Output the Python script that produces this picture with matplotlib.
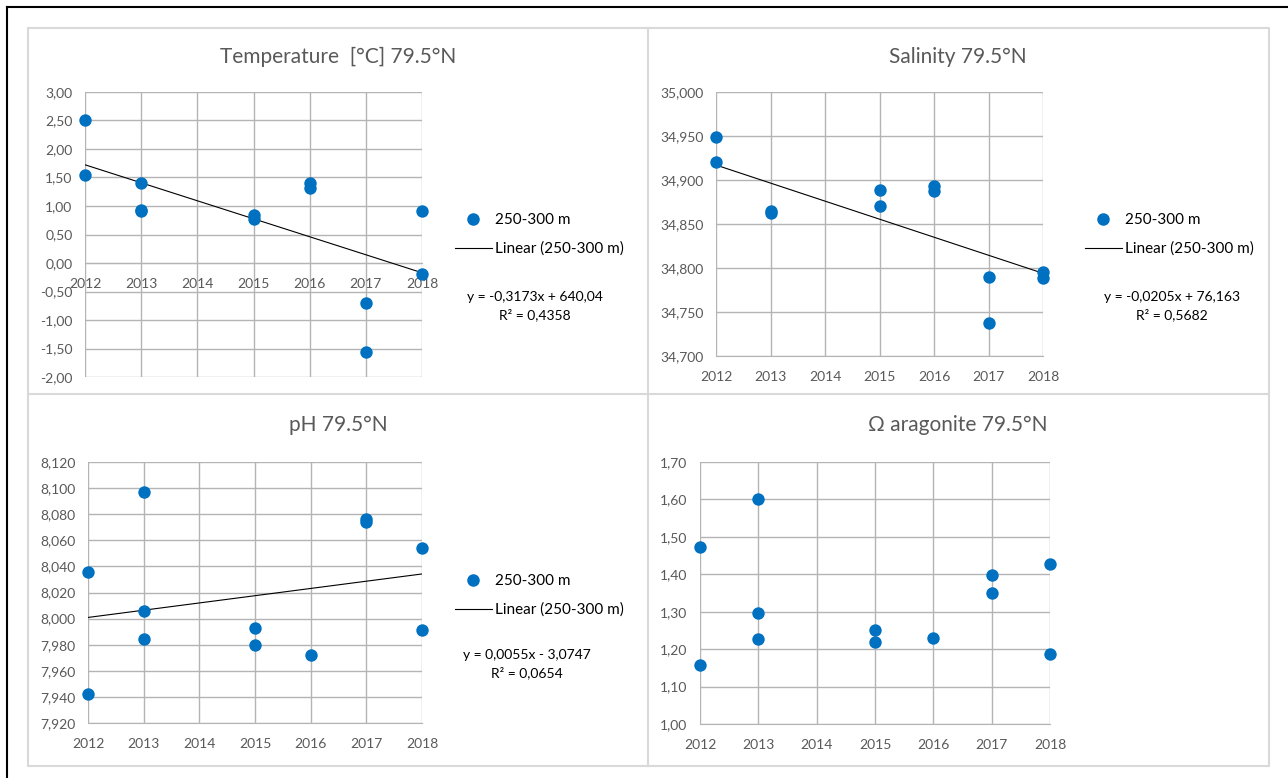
import matplotlib
matplotlib.use("Agg")
import matplotlib.pyplot as plt
import numpy as np
from matplotlib.lines import Line2D
from matplotlib.ticker import FuncFormatter, MultipleLocator

plt.rcParams['font.family'] = ['Lato', 'DejaVu Sans']

years = [2012, 2013, 2014, 2015, 2016, 2017, 2018]

temp_x = [2012, 2012, 2013, 2013, 2013, 2015, 2015, 2016, 2016, 2017, 2017, 2018, 2018]
temp_y = [2.51, 1.55, 1.40, 0.93, 0.91, 0.85, 0.77, 1.40, 1.31, -0.70, -1.56, 0.92, -0.20]

sal_x = [2012, 2012, 2013, 2013, 2015, 2015, 2016, 2016, 2017, 2017, 2018, 2018]
sal_y = [34.949, 34.921, 34.865, 34.862, 34.889, 34.870, 34.893, 34.887, 34.790, 34.738, 34.796, 34.789]
# trend coefficients as printed on the chart (slope, intercept)
sal_trend = (-0.0205, 76.163)

ph_x = [2012, 2012, 2013, 2013, 2013, 2015, 2015, 2016, 2017, 2017, 2018, 2018]
ph_y = [8.036, 7.942, 8.097, 8.006, 7.984, 7.993, 7.980, 7.972, 8.076, 8.074, 8.054, 7.991]

om_x = [2012, 2012, 2013, 2013, 2013, 2015, 2015, 2016, 2017, 2017, 2018, 2018]
om_y = [1.472, 1.157, 1.602, 1.296, 1.227, 1.251, 1.220, 1.231, 1.397, 1.350, 1.428, 1.188]

series_label = "250-300 m"
trend_label = "Linear (250-300 m)"

W, H = 1288, 778
fig = plt.figure(figsize=(W / 100, H / 100), dpi=100)
fig.patch.set_facecolor('white')

BLUE = '#0070C0'
GRID = '#b4b4b4'
TXT = '#595959'


def rect(x0, y0, x1, y1):
    return [x0 / W, 1 - y1 / H, (x1 - x0) / W, (y1 - y0) / H]


def comma(dec):
    return FuncFormatter(lambda v, p: f"{v:.{dec}f}".replace('.', ','))


def make_ax(box, ylim, step, dec, zero_axis=False):
    ax = fig.add_axes(rect(*box))
    ax.set_xlim(2012, 2018)
    ax.set_ylim(*ylim)
    ax.set_xticks(years)
    ax.set_xticklabels([str(y) for y in years])
    ax.yaxis.set_major_locator(MultipleLocator(step))
    ax.yaxis.set_major_formatter(comma(dec))
    ax.grid(True, color=GRID, linewidth=1.0)
    ax.set_axisbelow(True)
    for s in ['top', 'right', 'left']:
        ax.spines[s].set_visible(False)
    ax.spines['bottom'].set_color(GRID)
    if zero_axis:
        ax.spines['bottom'].set_position(('data', 0))
    ax.tick_params(length=0, labelsize=10, colors=TXT)
    ax.tick_params(axis='x', pad=10.5)
    ax.tick_params(axis='y', pad=9)
    for lab in ax.get_xticklabels() + ax.get_yticklabels():
        lab.set_color(TXT)
    return ax


def trend(ax, x, y, coef=None):
    if coef is None:
        k, b = np.polyfit(x, y, 1)
    else:
        k, b = coef
    xs = np.array([2012, 2018])
    ax.plot(xs, k * xs + b, color='black', lw=0.8, zorder=3)


def legend(ax, x, y):
    h1 = Line2D([], [], marker='o', color=BLUE, ls='none', markersize=8)
    h2 = Line2D([], [], color='black', lw=0.8)
    ax.legend([h1, h2], [series_label, trend_label], loc='upper left',
              bbox_to_anchor=(x / W, 1 - y / H), bbox_transform=fig.transFigure,
              frameon=False, fontsize=11, handlelength=2.4, handletextpad=0.25,
              labelspacing=0.95, borderaxespad=0, borderpad=0, labelcolor='black')


def title(x, y, s):
    fig.text(x / W, 1 - y / H, s, ha='center', va='center', fontsize=15, color=TXT)


def eq(x, y, s1, s2):
    fig.text(x / W, 1 - y / H, s1, ha='center', va='center', fontsize=10, color='black')
    fig.text(x / W, 1 - (y + 18) / H, s2, ha='center', va='center', fontsize=10, color='black')


# Temperature
ax1 = make_ax((85, 92, 422, 377), (-2.0, 3.0), 0.5, 2, zero_axis=True)
ax1.scatter(temp_x, temp_y, s=80, color=BLUE, zorder=4, clip_on=False, linewidths=0)
trend(ax1, temp_x, temp_y)
legend(ax1, 455, 213)
title(338, 57, "Temperature  [°C] 79.5°N")
eq(535, 297, "y = -0,3173x + 640,04", "R² = 0,4358")

# Salinity
ax2 = make_ax((716, 92, 1043, 356), (34.700, 35.000), 0.05, 3)
ax2.scatter(sal_x, sal_y, s=80, color=BLUE, zorder=4, clip_on=False, linewidths=0)
trend(ax2, sal_x, sal_y, sal_trend)
legend(ax2, 1085, 213)
title(958, 57, "Salinity 79.5°N")
eq(1172, 297, "y = -0,0205x + 76,163", "R² = 0,5682")

# pH
ax3 = make_ax((88, 462, 422, 723), (7.920, 8.120), 0.02, 3)
ax3.scatter(ph_x, ph_y, s=80, color=BLUE, zorder=4, clip_on=False, linewidths=0)
trend(ax3, ph_x, ph_y)
legend(ax3, 455, 574)
title(338, 425, "pH 79.5°N")
eq(527, 655, "y = 0,0055x - 3,0747", "R² = 0,0654")

# Omega aragonite
ax4 = make_ax((700, 462, 1050, 724), (1.00, 1.70), 0.10, 2)
ax4.scatter(om_x, om_y, s=80, color=BLUE, zorder=4, clip_on=False, linewidths=0)
title(958, 425, "Ω aragonite 79.5°N")

# panel frame lines
PANEL = '#d9d9d9'
def fline(xs, ys, color, lw):
    fig.add_artist(Line2D([x / W for x in xs], [1 - y / H for y in ys],
                          color=color, lw=lw, transform=fig.transFigure))

fline([28, 1269, 1269, 28, 28], [28, 28, 766, 766, 28], PANEL, 1.5)
fline([648, 648], [28, 766], PANEL, 1.5)
fline([28, 1269], [394, 394], PANEL, 1.5)
# outer black border (top and left)
fline([7, 1288], [7, 7], 'black', 1.5)
fline([7, 7], [7, 778], 'black', 1.5)

fig.savefig("out.png", dpi=100, facecolor='white')
